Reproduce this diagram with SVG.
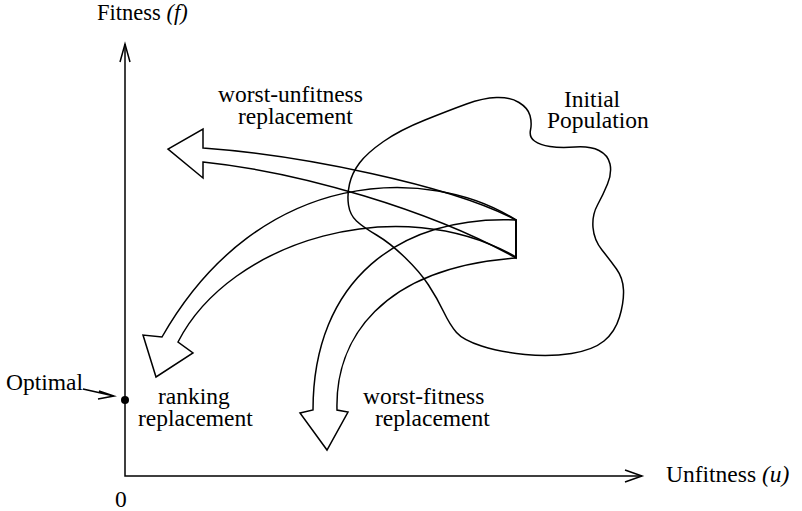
<svg xmlns="http://www.w3.org/2000/svg" width="802" height="511" viewBox="0 0 802 511">
<style>
  .ln { fill: none; stroke: #000; stroke-width: 1.5; stroke-linejoin: miter; }
  .t { font-family: "Liberation Serif", "Times New Roman", serif; font-size: 23.5px; fill: #000; }
  .i { font-style: italic; }
</style>
<rect width="802" height="511" fill="#fff"/>
<g id="axes">
  <path class="ln" d="M125,44 L125,476 L642,476"/>
  <path class="ln" d="M120,62 L125,44 L130,62"/>
  <path class="ln" d="M625,470 L642,476 L625,482"/>
  <text class="t" x="97" y="20" style="font-size:22.5px">Fitness <tspan class="i">(f)</tspan></text>
  <text class="t" x="666" y="482">Unfitness  <tspan class="i">(u)</tspan></text>
  <text class="t" x="115" y="507">0</text>
</g>
<g id="optimal">
  <circle cx="125" cy="400" r="4" fill="#000"/>
  <text class="t" x="6" y="390">Optimal</text>
</g>
<g id="population">
  <path class="ln" d="M496.5,97.5 Q510,97 519,102.5 Q528,108 530,115.5 Q532,123 530.5,130 Q529,137 534.5,141 Q540,145 550,146.5 Q560,148 575,147 Q590,146 599,150.5 Q608,155 610,164 Q612,173 607.5,184 Q603,195 597.5,205 Q592,215 593,227.5 Q594,240 602,250 Q610,260 616.5,269 Q623,278 623.5,290 Q624,302 619.5,317 Q615,332 604,341 Q593,350 571.5,353.5 Q550,357 525,354.5 Q500,352 481.5,346 Q463,340 456.5,332.5 Q450,325 443.5,311.5 Q437,298 428.5,285 Q420,272 405,257.5 Q390,243 376.5,235 Q363,227 356.5,221 Q350,215 348.5,205 Q347,195 349.5,184 Q352,173 359.5,163 Q367,153 383.5,141.5 Q400,130 425,120 Q450,110 466.5,104 Q483,98 496.5,97.5 Z"/>
  <text class="t" x="564" y="107">Initial</text>
  <text class="t" x="547" y="128">Population</text>
</g>
<g id="connectors">
  <g id="worst-unfitness">
    <path class="ln" d="M516,220 C450,185 300,155 203,148 L203,129 L168,149 L203,178 L203,162 C300,172 430,210 516,258 Z"/>
  </g>
  <g id="ranking">
    <path class="ln" d="M516,220 C430,165 260,165 162,337 L143,335 L156,377 L193,353 L178,342 C230,240 400,190 516,257 Z"/>
  </g>
  <g id="worst-fitness">
    <path class="ln" d="M516,220 C400,215 313,280 313,410 L300,413 L327,450 L348,412 L337,410 C335,340 380,268 516,258 Z"/>
  </g>
  <path class="ln" d="M83,389 L114,396 M99,391 L114,396 L98,399"/>
</g>
<g id="labels">
  <text class="t" x="218" y="102">worst-unfitness</text>
  <text class="t" x="238" y="124">replacement</text>
  <text class="t" x="158" y="404">ranking</text>
  <text class="t" x="138" y="426">replacement</text>
  <text class="t" x="363" y="404">worst-fitness</text>
  <text class="t" x="375" y="426">replacement</text>
</g>
</svg>
